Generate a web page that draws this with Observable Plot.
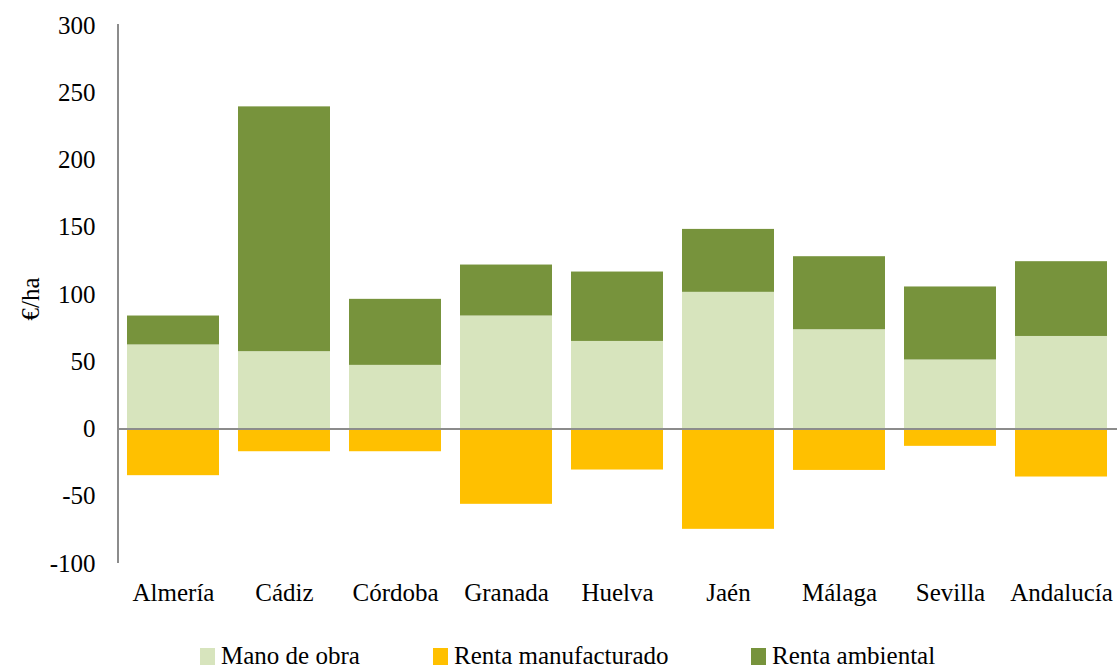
<!DOCTYPE html>
<html>
<head>
<meta charset="utf-8">
<script src="https://cdn.jsdelivr.net/npm/d3@7"></script>
<script src="https://cdn.jsdelivr.net/npm/@observablehq/plot@0.6"></script>
<style>
  html, body { margin: 0; padding: 0; background: #fff; }
  #wrap { position: relative; width: 1119px; height: 669px; font-family: "Liberation Serif", "DejaVu Serif", serif; }
  #legend { position: absolute; left: 0; top: 642px; width: 1119px; height: 27px; font-size: 25px; color: #000; }
  .item { position: absolute; top: 0; display: flex; align-items: center; white-space: nowrap; }
  .sw { width: 15px; height: 17px; margin-right: 6px; }
</style>
</head>
<body>
<div id="wrap">
  <div id="chart"></div>
  <div id="legend"></div>
</div>
<script>
const categories = ["Almería", "Cádiz", "Córdoba", "Granada", "Huelva", "Jaén", "Málaga", "Sevilla", "Andalucía"];
const series = ["Mano de obra", "Renta manufacturado", "Renta ambiental"];
const manoDeObra = [62.5, 57.5, 47.3, 84.0, 65.1, 101.6, 73.8, 51.3, 68.8];
const rentaManufacturado = [-34.7, -16.9, -16.9, -56.0, -30.5, -74.6, -30.8, -12.9, -35.7];
const rentaAmbiental = [21.5, 182.0, 49.1, 37.9, 51.6, 46.8, 54.3, 54.3, 55.6];
const colors = ["#D7E4BD", "#FFC000", "#77933C"];
const yTicks = [-100, -50, 0, 50, 100, 150, 200, 250, 300];

const values = [manoDeObra, rentaManufacturado, rentaAmbiental];
const data = [];
categories.forEach((c, i) => {
  series.forEach((s, j) => data.push({category: c, series: s, value: values[j][i]}));
});

const chart = Plot.plot({
  width: 1119,
  height: 615,
  marginLeft: 118,
  marginRight: 2,
  marginTop: 25,
  marginBottom: 52,
  style: {fontFamily: "'Liberation Serif', 'DejaVu Serif', serif", fontSize: "25px", color: "#000", background: "#fff"},
  x: {domain: categories, paddingInner: 0.17, paddingOuter: 0.085, label: null, tickSize: 0, tickPadding: 20},
  y: {domain: [-100, 300], ticks: yTicks, tickFormat: d => String(d), label: null, tickSize: 0, tickPadding: 23},
  color: {domain: series, range: colors},
  marks: [
    Plot.barY(data, {x: "category", y: "value", fill: "series", order: series}),
    Plot.ruleY([0], {stroke: "#8c8c8c", strokeWidth: 2}),
    Plot.text(["€/ha"], {frameAnchor: "left", dx: -88, dy: 26, rotate: -90, fontSize: 25})
  ]
});

// vertical value-axis line at the left edge of the frame, positioned through Plot's own y scale
const ys = chart.scale("y");
const xLeft = chart.scale("x").range[0];
d3.select(chart).append("line")
  .attr("x1", xLeft).attr("x2", xLeft)
  .attr("y1", ys.apply(300) - 1).attr("y2", ys.apply(-100))
  .attr("stroke", "#8c8c8c").attr("stroke-width", 2);

document.getElementById("chart").appendChild(chart);

const legend = document.getElementById("legend");
const lefts = [200, 433, 751];
series.forEach((s, i) => {
  const it = document.createElement("div");
  it.className = "item";
  it.style.left = lefts[i] + "px";
  const sw = document.createElement("span");
  sw.className = "sw";
  sw.style.background = colors[i];
  const tx = document.createElement("span");
  tx.textContent = s;
  it.appendChild(sw);
  it.appendChild(tx);
  legend.appendChild(it);
});
</script>
</body>
</html>
